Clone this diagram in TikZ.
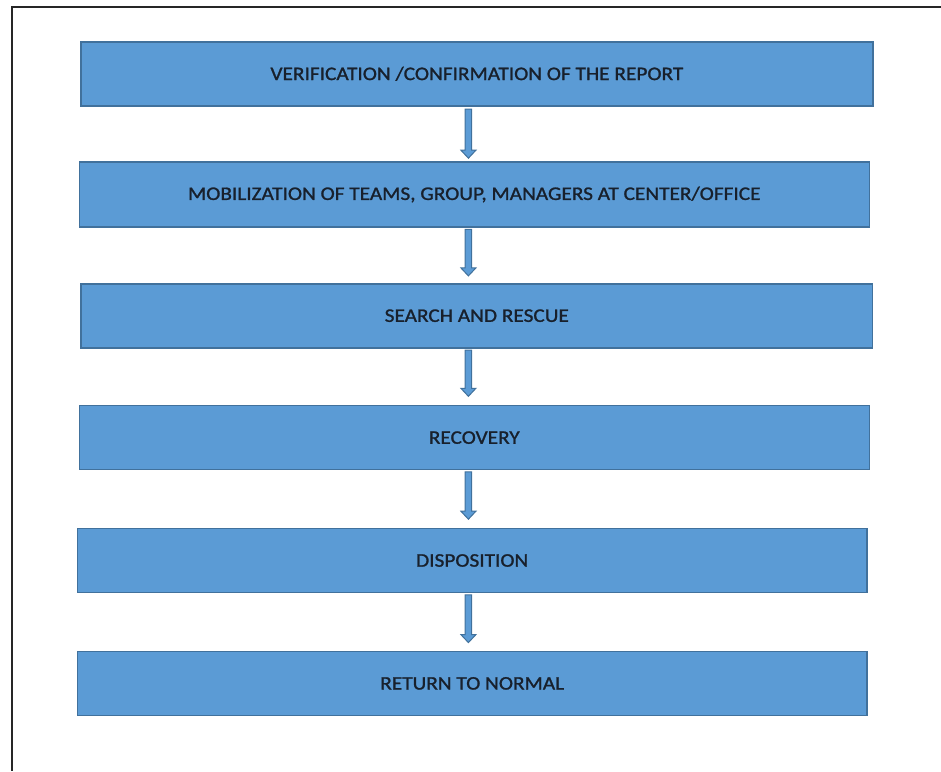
\documentclass[tikz,border=0pt]{standalone}
\usepackage{fontspec}
\setmainfont{Carlito}[FakeStretch=1.11, FakeBold=1.2]
\usetikzlibrary{calc}
\definecolor{boxfill}{HTML}{5B9BD5}
\definecolor{boxedge}{HTML}{41719C}
\definecolor{labeltext}{HTML}{18202C}
\tikzset{
  stepbox/.style={draw=boxedge, fill=boxfill, line width=1.6pt, inner sep=0pt,
    font=\fontsize{19.2}{22}\selectfont, text=labeltext},
  flowarrow/.style={draw=boxedge, fill=boxfill, line width=1pt, line join=miter,
    to path={let \p1=(\tikztostart), \p2=(\tikztotarget) in
      (\x1-3.2pt,\y1) -- (\x1+3.2pt,\y1) -- (\x1+3.2pt,\y2+8pt) -- (\x1+7.5pt,\y2+8pt)
      -- (\x1,\y2) -- (\x1-7.5pt,\y2+8pt) -- (\x1-3.2pt,\y2+8pt) -- cycle}},
  frameline/.style={draw=black!85, line width=2pt}
}
\begin{document}
\begin{tikzpicture}[x=1pt, y=-1pt]
\useasboundingbox (0,0) rectangle (941,771);
% outer frame: top and left edges
\draw[frameline] (941,6.5) -- (11.5,6.5) -- (11.5,771);
% process steps
\node[stepbox, minimum width=791.7pt, minimum height=64pt] (b1) at (476.9,73.8) {VERIFICATION /CONFIRMATION OF THE REPORT};
\node[stepbox, minimum width=790pt, minimum height=65pt] (b2) at (474.3,194.5) {MOBILIZATION OF TEAMS, GROUP, MANAGERS AT CENTER/OFFICE};
\node[stepbox, minimum width=791.5pt, minimum height=64pt] (b3) at (476.8,315.7) {SEARCH AND RESCUE};
\node[stepbox, minimum width=790pt, minimum height=64pt] (b4) at (474.3,437.6) {RECOVERY};
\node[stepbox, minimum width=789.7pt, minimum height=64pt] (b5) at (472.2,560.5) {DISPOSITION};
\node[stepbox, minimum width=789.7pt, minimum height=64pt] (b6) at (472.2,683.4) {RETURN TO NORMAL};
% arrow ends along the common axis x = 468.4
\foreach \i in {1,...,6}{
  \coordinate (s\i) at (468.4,0 |- b\i.south);
  \coordinate (e\i) at (468.4,0 |- b\i.north);
}
\draw[flowarrow] ($(s1)+(0,2.5)$) to ($(e2)+(0,-3)$);
\draw[flowarrow] ($(s2)+(0,1.5)$) to ($(e3)+(0,-7)$);
\draw[flowarrow] ($(s3)+(0,1.5)$) to ($(e4)+(0,-8.5)$);
\draw[flowarrow] ($(s4)+(0,1.5)$) to ($(e5)+(0,-8.5)$);
\draw[flowarrow] ($(s5)+(0,1.5)$) to ($(e6)+(0,-8)$);
\end{tikzpicture}
\end{document}
